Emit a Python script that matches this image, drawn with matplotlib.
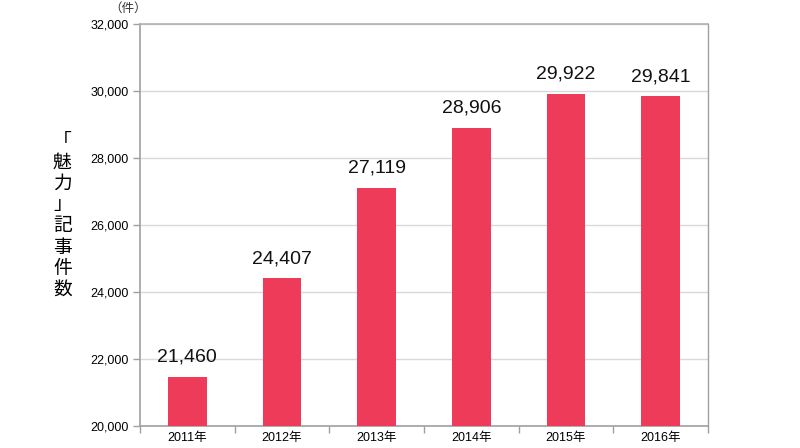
import matplotlib
matplotlib.use("Agg")
import matplotlib.pyplot as plt
import numpy as np

years = ["2011年", "2012年", "2013年", "2014年", "2015年", "2016年"]
values = [21460, 24407, 27119, 28906, 29922, 29841]
value_labels = ["21,460", "24,407", "27,119", "28,906", "29,922", "29,841"]
yticks = [20000, 22000, 24000, 26000, 28000, 30000, 32000]
ytick_labels = ["20,000", "22,000", "24,000", "26,000", "28,000", "30,000", "32,000"]
ylabel = "「魅力」記事件数"
unit = "（件）"

fam = ["Liberation Sans", "Noto Sans CJK JP", "DejaVu Sans"]
plt.rcParams["font.family"] = fam

fig = plt.figure(figsize=(8, 4.48), dpi=100)
ax = fig.add_axes([0.175, 0.0491, 0.71, 0.8973])

x = np.arange(len(years))
bar_color = "#EF3B5A"
ax.bar(x, values, width=0.41, color=bar_color, zorder=3)

ax.set_ylim(20000, 32000)
ax.set_xlim(-0.5, len(years) - 0.5)
ax.set_yticks(yticks)
ax.set_yticklabels(ytick_labels, fontsize=9)
ax.yaxis.grid(True, color="#d9d9d9", lw=1, zorder=0)

ax.set_xticks(np.arange(-0.5, len(years)), minor=False)
ax.set_xticklabels([""] * (len(years) + 1))
ax.set_xticks(x, minor=True)
ax.set_xticklabels(years, minor=True, fontsize=9)
ax.tick_params(axis="x", which="minor", length=0, pad=4)
ax.tick_params(axis="x", which="major", length=5, color="#a0a0a0", width=1)
ax.tick_params(axis="y", length=5, color="#a0a0a0", width=1, pad=3)

for s in ["left", "bottom", "right", "top"]:
    ax.spines[s].set_color("#a0a0a0")
    ax.spines[s].set_linewidth(1.2)
ax.spines["top"].set_color("#b0b0b0")
ax.spines["right"].set_linewidth(1.0)

for xi, v, lab in zip(x, values, value_labels):
    ax.annotate(lab, (xi, v), xytext=(0, 8), textcoords="offset points",
                ha="center", va="bottom", fontsize=14, color="#111111")

fig.text(0.078, 0.52, "\n".join(ylabel), ha="center", va="center",
         fontsize=13.5, linespacing=1.02, family=["Noto Sans CJK JP", "DejaVu Sans"])
fig.text(0.16, 0.995, unit, ha="center", va="top", fontsize=9,
         family=["Noto Sans CJK JP", "DejaVu Sans"], color="#333333")

fig.savefig("out.png", dpi=100)
